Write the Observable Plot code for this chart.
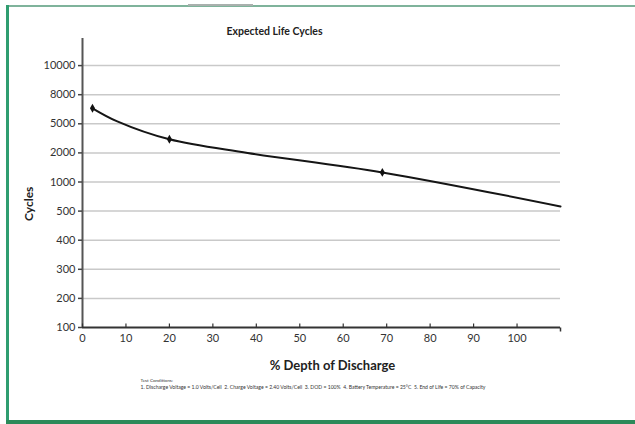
<!DOCTYPE html>
<html>
<head>
<meta charset="utf-8">
<script src="https://cdn.jsdelivr.net/npm/d3@7"></script>
<script src="https://cdn.jsdelivr.net/npm/@observablehq/plot@0.6"></script>
<style>
  html, body { margin: 0; padding: 0; background: #fff; }
  #wrap { position: relative; width: 635px; height: 424px; overflow: hidden; }
  .fr { position: absolute; }
</style>
</head>
<body>
<div id="wrap">
  <div class="fr" style="left:6px;top:5px;width:629px;height:2px;background:#7fb39b;"></div>
  <div class="fr" style="left:188px;top:4px;width:65px;height:2px;background:#a9b0ad;"></div>
  <div class="fr" style="left:6px;top:5px;width:3px;height:419px;background:#2f9d70;"></div>
  <div class="fr" style="left:6px;top:420px;width:629px;height:4px;background:#2b8a5a;"></div>
</div>
<script>
// Data
const depth  = [2.3, 8, 20, 38, 69, 110];
const cycles = [6600, 5250, 3400, 2000, 1330, 580];
const markerDepth  = [2.3, 20, 69];
const markerCycles = [6600, 3400, 1330];
const yTicks = [100, 200, 300, 400, 500, 1000, 2000, 5000, 8000, 10000];
const xTicks = [0, 10, 20, 30, 40, 50, 60, 70, 80, 90, 100];
const yTop = 12000;

const title = "Expected Life Cycles";
const xLabel = "% Depth of Discharge";
const yLabel = "Cycles";
const note1 = "Test Conditions:";
const note2 = "1. Discharge Voltage = 1.0 Volts/Cell  2. Charge Voltage = 2.40 Volts/Cell  3. DOD = 100%  4. Battery Temperature = 25°C  5. End of Life = 70% of Capacity";

const curve = depth.map((d, i) => ({depth: d, cycles: cycles[i]}));
const markers = markerDepth.map((d, i) => ({depth: d, cycles: markerCycles[i]}));

// equally spaced piecewise y scale (as in the reference)
const yDomain = [...yTicks, yTop];
const yRange = yTicks.map((_, i) => 327 - i * 29.1).concat([38]);

const tickUp = {draw(ctx) { ctx.moveTo(0, 0); ctx.lineTo(0, -4); }};
const tickDown = {draw(ctx) { ctx.moveTo(0, 0); ctx.lineTo(0, 4); }};

const chart = Plot.plot({
  width: 635,
  height: 424,
  marginLeft: 82,
  marginRight: 75,
  marginTop: 38,
  marginBottom: 97,
  style: {fontFamily: "Lato, 'Open Sans', sans-serif", color: "#333", background: "transparent"},
  x: {domain: [0, 110]},
  y: {type: "linear", domain: yDomain, range: yRange},
  marks: [
    Plot.ruleY(yTicks.slice(1), {x1: 0, x2: 110, stroke: "#c9c9c9", strokeWidth: 1.5}),
    Plot.ruleX([0], {y1: 100, y2: yTop, stroke: "#555", strokeWidth: 2}),
    Plot.ruleY([100], {x1: 0, x2: 110, stroke: "#333", strokeWidth: 2}),
    Plot.dot(xTicks, {x: d => d, y: () => 100, symbol: tickUp, stroke: "#333", strokeWidth: 1.2, fill: "none"}),
    Plot.dot([110], {x: d => d, y: () => 100, symbol: tickDown, stroke: "#333", strokeWidth: 1.5, fill: "none"}),
    Plot.axisY({ticks: yTicks, tickSize: 4, tickPadding: 3, tickFormat: d => String(d), label: null, fontSize: 11, stroke: "#444", strokeWidth: 1.5}),
    Plot.axisX({ticks: xTicks, tickSize: 0, tickPadding: 7, tickFormat: d => String(d), label: null, fontSize: 11}),
    Plot.line(curve, {x: "depth", y: "cycles", curve: "catmull-rom", stroke: "#151515", strokeWidth: 2}),
    Plot.dot(markers, {x: "depth", y: "cycles", symbol: "diamond", r: 2.7, fill: "#111"}),
    Plot.text([title], {frameAnchor: "top", dx: -47, dy: -11, fontSize: 10.5, fontWeight: "bold", fill: "#222"}),
    Plot.text([xLabel], {frameAnchor: "bottom", dx: 11, dy: 42, fontSize: 13, fontWeight: "bold", fill: "#222"}),
    Plot.text([yLabel], {frameAnchor: "left", dx: -53, dy: 38, rotate: -90, fontSize: 12, fontWeight: "bold", fill: "#222"}),
    Plot.text([note1], {frameAnchor: "bottom-left", dx: 58, dy: 54, textAnchor: "start", fontSize: 4.6, fill: "#333"}),
    Plot.text([note2], {frameAnchor: "bottom-left", dx: 58, dy: 61, textAnchor: "start", fontSize: 5.1, fill: "#333"})
  ]
});
chart.style.position = "absolute";
chart.style.left = "0px";
chart.style.top = "0px";
document.getElementById("wrap").appendChild(chart);
</script>
</body>
</html>
